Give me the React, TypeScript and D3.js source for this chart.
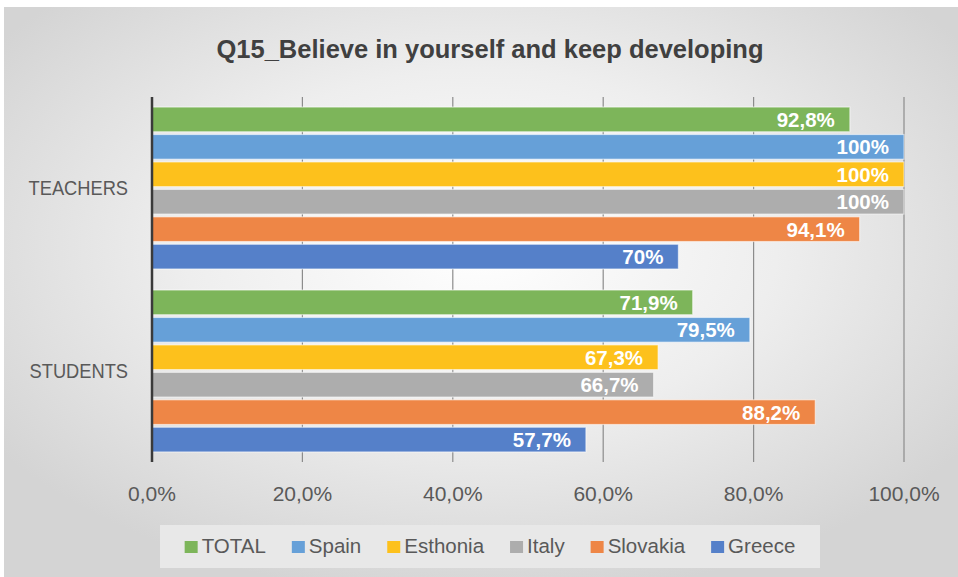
import React, { useMemo } from "react";
import * as d3 from "d3";

const categories = ["TEACHERS", "STUDENTS"];
const seriesNames = ["TOTAL", "Spain", "Esthonia", "Italy", "Slovakia", "Greece"];
const teachersValues = [92.8, 100, 100, 100, 94.1, 70];
const studentsValues = [71.9, 79.5, 67.3, 66.7, 88.2, 57.7];
const tickValues = [0, 20, 40, 60, 80, 100];
const seriesColors = ["#7db55a", "#66a0d8", "#fdc11c", "#adadad", "#ee8646", "#5580c9"];

const W = 958;
const H = 577;
const FONT = "'Liberation Sans', Arial, sans-serif";
const LEGEND_FS = 20.5;

function fmtLabel(v: number) {
  const s = Number.isInteger(v) ? String(v) : v.toFixed(1).replace(".", ",");
  return s + "%";
}

function measure(text: string, size: number): number {
  const c = document.createElement("canvas");
  const ctx = c.getContext("2d");
  if (!ctx) return text.length * size * 0.55;
  ctx.font = `${size}px 'Liberation Sans', Arial, sans-serif`;
  return ctx.measureText(text).width;
}

export default function App() {
  const x = d3.scaleLinear().domain([0, 100]).range([152, 904]);
  const y0 = d3
    .scaleBand<string>()
    .domain(categories)
    .range([97, 462])
    .paddingInner(0.115)
    .paddingOuter(0.055);
  const y1 = d3
    .scaleBand<string>()
    .domain(seriesNames)
    .range([0, y0.bandwidth()])
    .paddingInner(0.1)
    .paddingOuter(0);
  const dataByCat: Record<string, number[]> = {
    TEACHERS: teachersValues,
    STUDENTS: studentsValues,
  };

  const legendBox = { x: 160, y: 525, w: 660, h: 43 };
  const sw = 13;
  const swGap = 4;
  const itemGap = 26;
  const legendItems = useMemo(() => {
    const widths = seriesNames.map((s) => measure(s, LEGEND_FS));
    const total =
      widths.reduce((a, b) => a + b, 0) + seriesNames.length * (sw + swGap) + itemGap * (seriesNames.length - 1);
    let cx = legendBox.x + (legendBox.w - total) / 2;
    return widths.map((w) => {
      const pos = cx;
      cx += sw + swGap + w + itemGap;
      return pos;
    });
  }, []);

  return (
    <svg width={W} height={H} style={{ position: "absolute", left: 0, top: 0 }}>
      <defs>
        <radialGradient id="bg" cx="50%" cy="42%" r="62%">
          <stop offset="0%" stopColor="#ffffff" />
          <stop offset="50%" stopColor="#eeeeee" />
          <stop offset="100%" stopColor="#d4d4d4" />
        </radialGradient>
      </defs>
      <rect x={0} y={0} width={W} height={H} fill="#ffffff" />
      <rect x={4} y={7} width={W - 4} height={H - 7} fill="url(#bg)" />
      <text
        x={490}
        y={58}
        textAnchor="middle"
        fontFamily={FONT}
        fontWeight="bold"
        fontSize={25.5}
        fill="#404040"
      >
        Q15_Believe in yourself and keep developing
      </text>

      {tickValues.slice(1).map((t) => (
        <line key={t} x1={x(t)} x2={x(t)} y1={97} y2={462} stroke="#8c8c8c" strokeWidth={1.2} />
      ))}

      {categories.map((c) => (
        <g key={c} transform={`translate(0,${y0(c)})`}>
          {seriesNames.map((s, i) => {
            const v = dataByCat[c][i];
            const yy = y1(s)!;
            const bh = y1.bandwidth();
            return (
              <g key={s}>
                <rect
                  x={x(0)}
                  y={yy}
                  width={x(v) - x(0)}
                  height={bh}
                  fill={seriesColors[i]}
                  stroke="#ffffff"
                  strokeOpacity={0.55}
                  strokeWidth={1.2}
                />
                <text
                  x={x(v) - 15}
                  y={yy + bh / 2}
                  dy="0.36em"
                  textAnchor="end"
                  fontFamily={FONT}
                  fontWeight="bold"
                  fontSize={20.5}
                  fill="#ffffff"
                >
                  {fmtLabel(v)}
                </text>
              </g>
            );
          })}
          <text
            transform={`translate(128,${y0.bandwidth() / 2 + 7}) scale(0.87,1)`}
            textAnchor="end"
            fontFamily={FONT}
            fontSize={21}
            fill="#595959"
          >
            {c}
          </text>
        </g>
      ))}

      <line x1={x(0)} x2={x(0)} y1={97} y2={462} stroke="#3a3a3a" strokeWidth={2.5} />

      {tickValues.map((t) => (
        <text
          key={t}
          x={x(t)}
          y={501}
          textAnchor="middle"
          fontFamily={FONT}
          fontSize={21}
          fill="#595959"
        >
          {t.toFixed(1).replace(".", ",") + "%"}
        </text>
      ))}

      <rect x={legendBox.x} y={legendBox.y} width={legendBox.w} height={legendBox.h} fill="#e8e8e8" />
      {seriesNames.map((s, i) => (
        <g key={s} transform={`translate(${legendItems[i]},0)`}>
          <rect x={0} y={541} width={sw} height={12} fill={seriesColors[i]} />
          <text x={sw + swGap} y={553} fontFamily={FONT} fontSize={LEGEND_FS} fill="#595959">
            {s}
          </text>
        </g>
      ))}
    </svg>
  );
}
